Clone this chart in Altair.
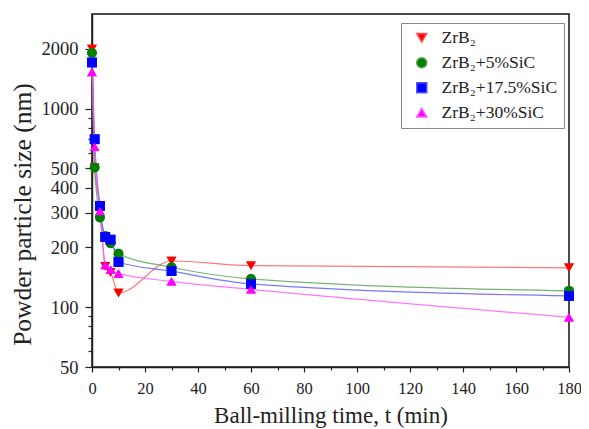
import altair as alt
import pandas as pd

t = [0, 1, 3, 5, 7, 10, 30, 60, 180]
series_names = ["ZrB₂", "ZrB₂+5%SiC", "ZrB₂+17.5%SiC", "ZrB₂+30%SiC"]
zrb2 = [2000, 505, 322, 161, 150, 118, 171, 162, 158]
sic5 = [1910, 505, 283, 228, 210, 186, 159, 139, 121]
sic175 = [1710, 702, 324, 226, 219, 169, 152, 131, 114]
sic30 = [1530, 644, 305, 163, 155, 148, 135, 123, 89]

marker_colors = ["#ff0000", "#008000", "#0000ff", "#ff00ff"]
line_colors = ["#ff5555", "#55a055", "#5555ff", "#ff55ff"]
shapes = ["triangle-down", "circle", "square", "triangle-up"]

y_major = [50, 100, 200, 300, 400, 500, 1000, 2000]
y_minor = [60, 70, 80, 90, 600, 700, 800, 900]
x_major = [0, 20, 40, 60, 80, 100, 120, 140, 160, 180]
x_minor = [10, 30, 50, 70, 90, 110, 130, 150, 170]

rows = []
for name, vals in zip(series_names, [zrb2, sic5, sic175, sic30]):
    for ti, v in zip(t, vals):
        rows.append({"series": name, "curve": name, "t": ti, "size": v})
df = pd.DataFrame(rows)

FONT = "Liberation Serif"
xscale = alt.Scale(domain=[0, 180], nice=False)
yscale = alt.Scale(type="log", domain=[50, 3000], nice=False)

x_axis = alt.Axis(values=x_major, title="Ball-milling time, t (min)", orient="bottom",
                  labelFont=FONT, labelFontSize=16.5, labelColor="#222", titleFont=FONT,
                  titleFontSize=23, titleFontWeight="normal", titleColor="#222",
                  tickSize=5, labelPadding=8, titlePadding=8, domainColor="#222",
                  domainWidth=1.5, tickColor="#222", tickWidth=1.2, grid=False,
                  labelFlush=False)
y_axis = alt.Axis(values=y_major, title="Powder particle size (nm)", orient="left",
                  labelFont=FONT, labelFontSize=18.5, labelColor="#222", titleFont=FONT,
                  titleFontSize=25.5, titleFontWeight="normal", titleColor="#222",
                  tickSize=7, labelPadding=7, titleX=-57, titleY=200,
                  domainColor="#222", domainWidth=1.5, tickColor="#222", tickWidth=1.2,
                  grid=False, format="d")

color_enc = alt.Color("series:N", scale=alt.Scale(domain=series_names, range=marker_colors),
                      legend=alt.Legend(title=None))
shape_enc = alt.Shape("series:N", scale=alt.Scale(domain=series_names, range=shapes),
                      legend=alt.Legend(title=None))

points_legend = alt.Chart(df).mark_point(filled=True, opacity=1, size=95).encode(
    x=alt.X("t:Q", scale=xscale, axis=x_axis),
    y=alt.Y("size:Q", scale=yscale, axis=y_axis),
    color=color_enc,
    shape=shape_enc,
)

lines = alt.Chart(df).mark_line(interpolate="monotone", strokeWidth=1.2, opacity=0.8).encode(
    x=alt.X("t:Q", scale=xscale, axis=None),
    y=alt.Y("size:Q", scale=yscale, axis=None),
    stroke=alt.Stroke("curve:N", scale=alt.Scale(domain=series_names, range=line_colors), legend=None),
    detail="curve:N",
)

points_top = alt.Chart(df).mark_point(filled=True, opacity=1, size=95).encode(
    x=alt.X("t:Q", scale=xscale, axis=None),
    y=alt.Y("size:Q", scale=yscale, axis=None),
    color=color_enc,
    shape=shape_enc,
)

minor = alt.Chart(df).mark_text().encode(
    text=alt.value(""),
    x=alt.X("t:Q", scale=xscale, axis=alt.Axis(values=x_minor, labels=False, title=None,
                                               orient="bottom", tickSize=3, domain=False,
                                               tickColor="#222", tickWidth=1.2, grid=False)),
    y=alt.Y("size:Q", scale=yscale, axis=alt.Axis(values=y_minor, labels=False, title=None,
                                                  orient="left", tickSize=4, domain=False,
                                                  tickColor="#222", tickWidth=1.2, grid=False)),
)

chart = alt.layer(points_legend, lines, points_top, minor).resolve_axis(
    x="independent", y="independent"
).properties(
    width=477, height=353,
    autosize=alt.AutoSizeParams(type="none"),
    padding={"left": 84, "top": 6, "right": 12, "bottom": 62},
).configure_view(
    stroke="#111", strokeWidth=1.5
).configure_legend(
    orient="none", legendX=309, legendY=9,
    strokeColor="#888", fillColor="white", padding=6,
    symbolSize=100, symbolOffset=6, labelOffset=11, rowPadding=6,
    labelFont=FONT, labelFontSize=17.5, labelColor="#222",
    symbolOpacity=1,
)

chart.save("out.html", embed_options={"renderer": "svg", "actions": False})
